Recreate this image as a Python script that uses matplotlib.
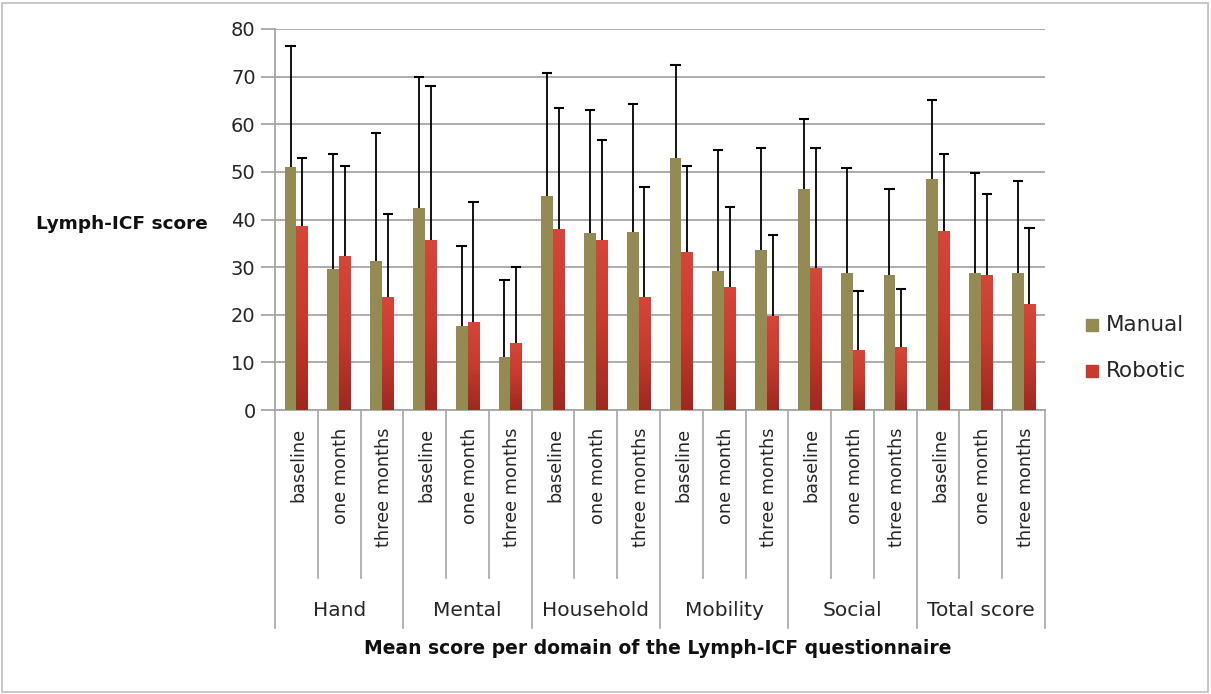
import numpy as np
import matplotlib
matplotlib.use("Agg")
import matplotlib.pyplot as plt
import matplotlib.transforms as mtransforms
from matplotlib.lines import Line2D
from matplotlib.patches import Rectangle
from matplotlib.colors import LinearSegmentedColormap

plt.rcParams["font.family"] = ["DejaVu Sans"]

groups = ["Hand", "Mental", "Household", "Mobility", "Social", "Total score"]
times = ["baseline", "one month", "three months"]
manual = [51.0, 29.7, 31.2, 42.5, 17.7, 11.2, 45.0, 37.1, 37.3,
          53.0, 29.1, 33.6, 46.5, 28.7, 28.3, 48.6, 28.7, 28.7]
manual_top = [76.5, 53.7, 58.1, 69.9, 34.5, 27.4, 70.8, 63.0, 64.2,
              72.4, 54.6, 55.0, 61.1, 50.9, 46.4, 65.1, 49.7, 48.1]
robotic = [38.7, 32.4, 23.8, 35.6, 18.5, 14.1, 38.0, 35.6, 23.8,
           33.1, 25.8, 19.8, 29.8, 12.5, 13.3, 37.6, 28.3, 22.2]
robotic_top = [53.0, 51.3, 41.1, 68.0, 43.6, 30.1, 63.4, 56.6, 46.9,
               51.3, 42.7, 36.7, 55.0, 24.9, 25.4, 53.7, 45.3, 38.3]

W, H = 1211, 694
fig = plt.figure(figsize=(W / 100, H / 100), dpi=100)
ax = fig.add_axes([275 / W, 1 - 410 / H, (1045 - 275) / W, (410 - 29) / H])

n = len(manual)
x = np.arange(n)
bw = 0.275
manual_col = "#948A54"
text_col = "#262626"

ax.bar(x - bw / 2, manual, bw, color=manual_col, zorder=3, label="Manual")
rbars = ax.bar(x + bw / 2, robotic, bw, color="#C23A2E", zorder=3, label="Robotic")

# gradient fill for robotic bars
grad = np.linspace(0, 1, 256).reshape(-1, 1)
cmap = LinearSegmentedColormap.from_list("r", ["#9E2820", "#C73A2E", "#D6463A"])
for b in rbars:
    x0, y0 = b.get_x(), b.get_y()
    w, h = b.get_width(), b.get_height()
    im = ax.imshow(grad, extent=[x0, x0 + w, y0, y0 + h], origin="lower",
                   cmap=cmap, aspect="auto", zorder=3.5)
    im.set_clip_path(b)

cap = 0.12
for xs, lo, hi in [(x - bw / 2, manual, manual_top), (x + bw / 2, robotic, robotic_top)]:
    ax.vlines(xs, lo, hi, colors="black", linewidth=1.3, zorder=4)
    ax.hlines(hi, xs - cap, xs + cap, colors="black", linewidth=1.5, zorder=4)

ax.set_xlim(-0.5, n - 0.5)
ax.set_ylim(0, 80)
ax.set_yticks(range(0, 81, 10))
ax.yaxis.grid(True, color="#A6A6A6", linewidth=1.3, zorder=0)
ax.set_axisbelow(True)
for s in ["top", "right"]:
    ax.spines[s].set_visible(False)
ax.spines["left"].set_color("#A6A6A6")
ax.spines["bottom"].set_color("#A6A6A6")
ax.spines["left"].set_linewidth(1.3)
ax.spines["bottom"].set_linewidth(1.3)
ax.tick_params(axis="y", length=10, color="#A6A6A6", width=1.3, labelsize=14,
               pad=4, labelcolor=text_col)
ax.set_xticks([])

trans = mtransforms.blended_transform_factory(ax.transData, fig.transFigure)
def fy(py):
    return 1 - py / H

for k in range(n + 1):
    bottom = 628 if k % 3 == 0 else 578
    fig.add_artist(Line2D([k - 0.5, k - 0.5], [fy(410), fy(bottom)],
                          transform=trans, color="#A6A6A6", linewidth=1.2))
for i in range(n):
    ax.text(i + 0.05, fy(428), times[i % 3], transform=trans, rotation=90,
            ha="center", va="top", fontsize=12.7, color=text_col)
for g, name in enumerate(groups):
    ax.text(g * 3 + 1, fy(610), name, transform=trans, ha="center",
            va="center", fontsize=14.5, color=text_col)

fig.text(658 / W, fy(648), "Mean score per domain of the Lymph-ICF questionnaire",
         ha="center", va="center", fontsize=13.5, fontweight="bold", color="#111111")
fig.text(122 / W, fy(224), "Lymph-ICF score", ha="center", va="center",
         fontsize=13.3, fontweight="bold", color="#111111")

# legend
fig.add_artist(Rectangle((1086 / W, fy(331)), 12 / W, 12 / H, transform=fig.transFigure,
                         color=manual_col))
fig.text(1106 / W, fy(325), "Manual", ha="left", va="center", fontsize=15.5, color=text_col)
fig.add_artist(Rectangle((1086 / W, fy(377)), 12 / W, 12 / H, transform=fig.transFigure,
                         color="#C73A2E"))
fig.text(1106 / W, fy(371), "Robotic", ha="left", va="center", fontsize=15.5, color=text_col)

# chart border
fig.add_artist(Rectangle((2 / W, 2 / H), (W - 5) / W, (H - 5) / H,
                         transform=fig.transFigure, fill=False,
                         edgecolor="#BFBFBF", linewidth=1.2))

fig.savefig("out.png", dpi=100, facecolor="white")
